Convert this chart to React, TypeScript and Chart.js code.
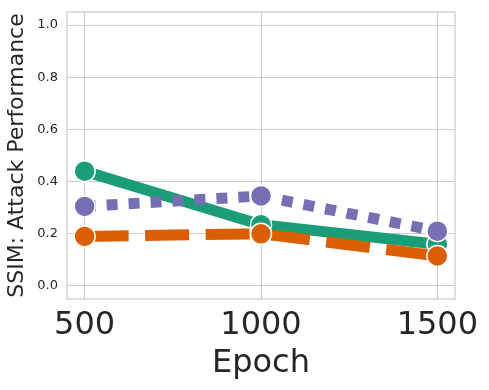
import React, { useEffect, useRef } from "react";
import { Chart, registerables } from "chart.js";

Chart.register(...registerables);

const epochs = [500, 1000, 1500];
const greenValues = [0.44, 0.235, 0.16];
const purpleValues = [0.305, 0.345, 0.21];
const orangeValues = [0.19, 0.2, 0.115];
const yTicks = [0, 0.2, 0.4, 0.6, 0.8, 1.0];
const xTicks = [500, 1000, 1500];

const FONT = "'DejaVu Sans', sans-serif";
const TEXT = "#262626";
const GRID = "#cccccc";

const framePlugin = {
  id: "frame",
  beforeDatasetsDraw(chart: any) {
    const { ctx, chartArea } = chart;
    ctx.save();
    ctx.strokeStyle = GRID;
    ctx.lineWidth = 1.25;
    ctx.strokeRect(chartArea.left, chartArea.top, chartArea.right - chartArea.left, chartArea.bottom - chartArea.top);
    ctx.restore();
  },
};

export default function App() {
  const ref = useRef<HTMLCanvasElement | null>(null);
  useEffect(() => {
    document.body.style.margin = "0";
    const toPts = (vals: number[]) => epochs.map((x, i) => ({ x, y: vals[i] }));
    const mk = (label: string, vals: number[], color: string, dash: number[], order: number) => ({
      label,
      data: toPts(vals),
      borderColor: color,
      backgroundColor: color,
      borderWidth: 11,
      borderDash: dash,
      borderCapStyle: "butt" as const,
      borderJoinStyle: "round" as const,
      pointRadius: 10.5,
      pointHoverRadius: 10.5,
      pointBackgroundColor: color,
      pointBorderColor: "#ffffff",
      pointBorderWidth: 1.5,
      tension: 0,
      order,
    });
    const chart = new Chart(ref.current!, {
      type: "line",
      data: {
        datasets: [
          mk("green", greenValues, "#1b9e77", [], 3),
          mk("purple", purpleValues, "#7570b3", [11, 11], 2),
          mk("orange", orangeValues, "#d95f02", [44, 16.5], 1),
        ],
      },
      plugins: [framePlugin],
      options: {
        responsive: false,
        animation: false,
        devicePixelRatio: 1,
        layout: { padding: { left: 0, top: 10, right: 34, bottom: 0 } },
        plugins: { legend: { display: false }, tooltip: { enabled: false } },
        scales: {
          x: {
            type: "linear",
            min: 450,
            max: 1550,
            afterBuildTicks: (s: any) => {
              s.ticks = xTicks.map((v) => ({ value: v }));
            },
            afterFit: (s: any) => {
              s.height = 91;
              s.paddingLeft = 0;
              s.paddingRight = 0;
            },
            grid: { color: GRID, lineWidth: 1, drawTicks: false },
            border: { display: false },
            ticks: {
              color: TEXT,
              font: { family: FONT, size: 32 },
              padding: 7,
              maxRotation: 0,
              callback: (v: any) => String(v),
            },
            title: {
              display: true,
              text: "Epoch",
              color: TEXT,
              font: { family: FONT, size: 32 },
              padding: { top: 0, bottom: 7 },
            },
          },
          y: {
            type: "linear",
            min: -0.05,
            max: 1.05,
            afterBuildTicks: (s: any) => {
              s.ticks = yTicks.map((v) => ({ value: v }));
            },
            afterFit: (s: any) => {
              s.width = 67;
              s.paddingTop = 0;
              s.paddingBottom = 0;
            },
            grid: { color: GRID, lineWidth: 1, drawTicks: false },
            border: { display: false },
            ticks: {
              color: TEXT,
              font: { family: FONT, size: 13 },
              padding: 9,
              callback: (v: any) => Number(v).toFixed(1),
            },
            title: {
              display: true,
              text: "SSIM: Attack Performance",
              color: TEXT,
              font: { family: FONT, size: 22 },
              padding: { top: 4, bottom: 0 },
            },
          },
        },
      },
    });
    return () => chart.destroy();
  }, []);
  return (
    <div style={{ width: 489, height: 390 }}>
      <canvas ref={ref} width={489} height={390} style={{ display: "block" }} />
    </div>
  );
}
